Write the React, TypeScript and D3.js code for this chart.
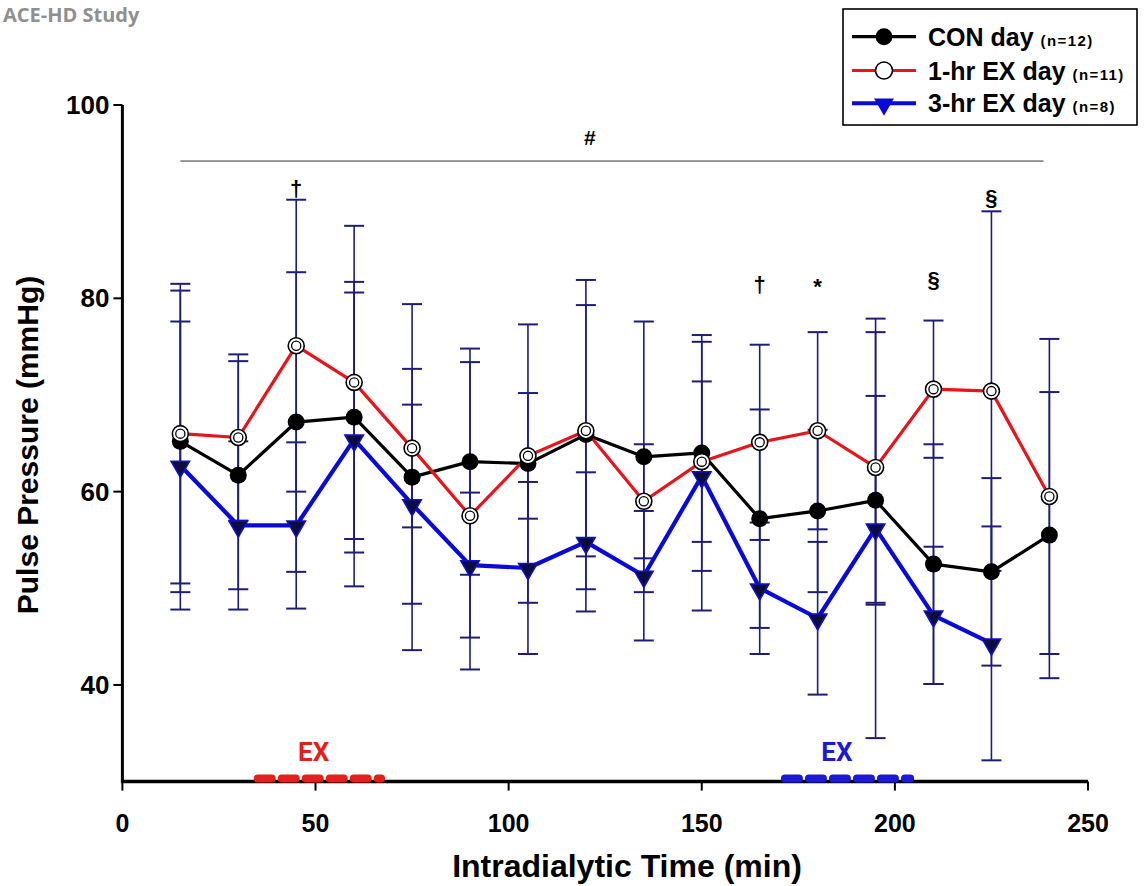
import React from "react";
import * as d3 from "d3";

// ---- data ----
const times = [15, 30, 45, 60, 75, 90, 105, 120, 135, 150, 165, 180, 195, 210, 225, 240];
const conMean = [65.2, 61.7, 67.2, 67.7, 61.5, 63.1, 62.9, 65.9, 63.6, 64.0, 57.2, 58.0, 59.1, 52.5, 51.7, 55.5];
const conSD = [15.6, 11.8, 15.5, 14.0, 17.9, 11.7, 14.4, 16.0, 14.0, 12.2, 11.3, 8.4, 10.8, 12.4, 9.7, 14.8];
const ex1Mean = [66.0, 65.6, 75.1, 71.3, 64.5, 57.5, 63.7, 66.3, 59.0, 63.1, 65.1, 66.3, 62.5, 70.6, 70.4, 59.5];
const ex1SD = [15.5, 8.6, 15.1, 16.2, 8.2, 15.9, 6.5, 13.0, 5.9, 8.3, 10.1, 10.2, 14.0, 7.1, 18.6, 16.3];
const ex3Times = [15, 30, 45, 60, 75, 90, 105, 120, 135, 150, 165, 180, 195, 210, 225];
const ex3Mean = [62.7, 56.5, 56.5, 65.4, 58.7, 52.4, 52.1, 54.8, 51.3, 61.6, 50.0, 46.9, 56.2, 47.2, 44.3];
const ex3SD = [14.9, 8.7, 8.6, 15.2, 10.3, 7.5, 8.9, 7.2, 6.7, 13.9, 6.8, 7.9, 21.7, 7.1, 12.1];

const xTicks = [0, 50, 100, 150, 200, 250];
const yTicks = [40, 60, 80, 100];

const legendLabels = ["CON day", "1-hr EX day", "3-hr EX day"];
const legendN = ["(n=12)", "(n=11)", "(n=8)"];

// significance annotations: [time, value, symbol]
const sigMarks: [number, number, string][] = [
  [45, 91.4, "†"],
  [165, 81.4, "†"],
  [180, 81.2, "*"],
  [210, 81.9, "§"],
  [225, 90.4, "§"],
];
const hashLine = { from: 15, to: 238.5, value: 94.2, labelAt: 121, labelValue: 96.6 };
const exPeriods = [
  { from: 34, to: 68, label: "EX", color: "#e3201b", labelAt: 49.5 },
  { from: 170.5, to: 205, label: "EX", color: "#1a1ad6", labelAt: 185 },
];

const W = 1146;
const H = 886;
const FONT = "'Liberation Sans', Arial, sans-serif";
const BAR = "#1d1d78";

export default function App() {
  const x = d3.scaleLinear().domain([0, 250]).range([122.4, 1088]);
  const y = d3.scaleLinear().domain([30, 100]).range([781.6, 105]);

  const line = d3
    .line<[number, number]>()
    .x((d) => x(d[0]))
    .y((d) => y(d[1]));

  const con = times.map((t, i) => [t, conMean[i]] as [number, number]);
  const ex1 = times.map((t, i) => [t, ex1Mean[i]] as [number, number]);
  const ex3 = ex3Times.map((t, i) => [t, ex3Mean[i]] as [number, number]);

  const tri = d3.symbol().type(d3.symbolTriangle).size(150)() as string;
  const triLeg = d3.symbol().type(d3.symbolTriangle).size(170)() as string;

  const errBars: { t: number; m: number; sd: number }[] = [];
  times.forEach((t, i) => errBars.push({ t, m: conMean[i], sd: conSD[i] }));
  times.forEach((t, i) => errBars.push({ t, m: ex1Mean[i], sd: ex1SD[i] }));
  ex3Times.forEach((t, i) => errBars.push({ t, m: ex3Mean[i], sd: ex3SD[i] }));

  const legendY = [36.7, 70.5, 103.3];

  return (
    <svg
      width={W}
      height={H}
      style={{ position: "absolute", left: 0, top: 0, background: "#fff" }}
      fontFamily={FONT}
    >
      <rect x={0} y={0} width={W} height={H} fill="#fff" />
      {/* title */}
      <text x={3} y={22} fontFamily="'Open Sans', sans-serif" fontWeight="bold" fontSize={20} fill="#8f8f8f">
        ACE-HD Study
      </text>

      {/* error bars */}
      <g stroke={BAR} strokeWidth={1.6} fill="none">
        {errBars.map((e, i) => (
          <g key={i}>
            <line x1={x(e.t)} x2={x(e.t)} y1={y(e.m + e.sd)} y2={y(e.m - e.sd)} />
            <line x1={x(e.t) - 10} x2={x(e.t) + 10} y1={y(e.m + e.sd)} y2={y(e.m + e.sd)} strokeWidth={2} />
            <line x1={x(e.t) - 10} x2={x(e.t) + 10} y1={y(e.m - e.sd)} y2={y(e.m - e.sd)} strokeWidth={2} />
          </g>
        ))}
      </g>

      {/* lines */}
      <path d={line(ex3) || ""} fill="none" stroke="#0a0ad8" strokeWidth={4.2} strokeLinejoin="round" />
      <path d={line(con) || ""} fill="none" stroke="#000" strokeWidth={3.2} strokeLinejoin="round" />
      <path d={line(ex1) || ""} fill="none" stroke="#e8141b" strokeWidth={3.2} strokeLinejoin="round" />

      {/* markers */}
      {ex3.map((d, i) => (
        <path
          key={"b" + i}
          d={tri}
          transform={`translate(${x(d[0])},${y(d[1]) + 1}) rotate(180)`}
          fill="#0c0c40"
          stroke="#1010d0"
          strokeWidth={1.5}
        />
      ))}
      {con.map((d, i) => (
        <circle key={"c" + i} cx={x(d[0])} cy={y(d[1])} r={8.5} fill="#000" />
      ))}
      {ex1.map((d, i) => (
        <g key={"r" + i}>
          <circle cx={x(d[0])} cy={y(d[1])} r={8} fill="#fff" stroke="#000" strokeWidth={1.6} />
          <circle cx={x(d[0])} cy={y(d[1])} r={4.6} fill="#fff" stroke="#000" strokeWidth={1.3} />
        </g>
      ))}

      {/* significance */}
      <line x1={x(hashLine.from)} x2={x(hashLine.to)} y1={y(hashLine.value)} y2={y(hashLine.value)} stroke="#333" strokeWidth={1} />
      <text x={x(hashLine.labelAt)} y={y(hashLine.labelValue)} textAnchor="middle" dominantBaseline="central" fontWeight="bold" fontSize={21}>
        #
      </text>
      {sigMarks.map(([t, v, s], i) => (
        <text key={"s" + i} x={x(t)} y={y(v)} textAnchor="middle" dominantBaseline="central" fontWeight="bold" fontSize={22}>
          {s}
        </text>
      ))}

      {/* axes */}
      <line x1={x(0)} x2={x(0)} y1={y(100)} y2={y(30)} stroke="#000" strokeWidth={3} />
      <line x1={x(0) - 1.5} x2={x(250)} y1={y(30)} y2={y(30)} stroke="#000" strokeWidth={3.5} />
      {yTicks.map((t) => (
        <g key={"yt" + t}>
          <line x1={x(0) - 9} x2={x(0)} y1={y(t)} y2={y(t)} stroke="#000" strokeWidth={2} />
          <text x={x(0) - 13} y={y(t)} textAnchor="end" dominantBaseline="central" fontWeight="bold" fontSize={26}>
            {t}
          </text>
        </g>
      ))}
      {xTicks.map((t) => (
        <g key={"xt" + t}>
          <line x1={x(t)} x2={x(t)} y1={y(30)} y2={y(30) + 9} stroke="#000" strokeWidth={2} />
          <text x={x(t)} y={y(30) + 41} textAnchor="middle" dominantBaseline="central" fontWeight="bold" fontSize={25}>
            {t}
          </text>
        </g>
      ))}
      <text x={627} y={866} textAnchor="middle" dominantBaseline="central" fontWeight="bold" fontSize={32}>
        Intradialytic Time (min)
      </text>
      <text
        transform={`translate(27,445) rotate(-90)`}
        textAnchor="middle"
        dominantBaseline="central"
        fontWeight="bold"
        fontSize={30}
      >
        Pulse Pressure (mmHg)
      </text>

      {/* exercise periods */}
      {exPeriods.map((p, i) => (
        <g key={"ex" + i}>
          <line
            x1={x(p.from) + 4}
            x2={x(p.to) - 4}
            y1={y(30) - 3}
            y2={y(30) - 3}
            stroke={p.color}
            strokeWidth={8}
            strokeLinecap="round"
            strokeDasharray="14 10"
          />
          <text
            x={x(p.labelAt)}
            y={752}
            textAnchor="middle"
            dominantBaseline="central"
            fontFamily="Roboto, sans-serif"
            fontWeight="bold"
            fontSize={26}
            fill={p.color}
          >
            {p.label}
          </text>
        </g>
      ))}

      {/* legend */}
      <rect x={843} y={9} width={294} height={116} fill="#fff" stroke="#000" strokeWidth={1.6} />
      {legendLabels.map((lab, i) => {
        const ly = legendY[i];
        const color = i === 0 ? "#000" : i === 1 ? "#e8141b" : "#0a0ad8";
        return (
          <g key={"lg" + i}>
            <line x1={852} x2={916} y1={ly} y2={ly} stroke={color} strokeWidth={i === 2 ? 4 : 3.2} />
            {i === 0 && <circle cx={884} cy={ly} r={8.5} fill="#000" />}
            {i === 1 && <circle cx={884} cy={ly} r={8.5} fill="#fff" stroke="#000" strokeWidth={1.6} />}
            {i === 2 && (
              <path d={triLeg} transform={`translate(884,${ly + 1}) rotate(180)`} fill="#0a0ad8" />
            )}
            <text x={928} y={ly} dominantBaseline="central" fontWeight="bold" fontSize={25}>
              {lab}
              <tspan dx={7} fontSize={15} letterSpacing={1.4} dy={3}>
                {legendN[i]}
              </tspan>
            </text>
          </g>
        );
      })}
    </svg>
  );
}
